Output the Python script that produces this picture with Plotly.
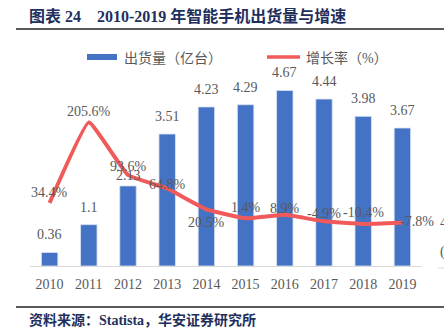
import plotly.graph_objects as go

years = ["2010", "2011", "2012", "2013", "2014", "2015", "2016", "2017", "2018", "2019"]
shipments = [0.36, 1.1, 2.13, 3.51, 4.23, 4.29, 4.67, 4.44, 3.98, 3.67]
growth = [34.4, 205.6, 93.6, 64.8, 20.5, 1.4, 8.9, -4.9, -10.4, -7.8]
ship_labels = ["0.36", "1.1", "2.13", "3.51", "4.23", "4.29", "4.67", "4.44", "3.98", "3.67"]
growth_labels = ["34.4%", "205.6%", "93.6%", "64.8%", "20.5%", "1.4%", "8.9%", "-4.9%", "-10.4%", "-7.8%"]

BLUE = "#4472C4"
RED = "#F05A5A"
GRAY = "#595959"
NAVY = "#1F2F5C"
FONT = "Liberation Serif, Noto Sans CJK SC, serif"
LS = 14

fig = go.Figure()
fig.add_trace(go.Bar(
    x=years, y=shipments, marker=dict(color=BLUE, line=dict(color="#DCE4F3", width=0.8)),
    width=0.42, showlegend=False, hoverinfo="skip"))
fig.add_trace(go.Scatter(
    x=years, y=growth, yaxis="y2", mode="lines",
    line=dict(color=RED, width=4, shape="spline", smoothing=0.3),
    showlegend=False, hoverinfo="skip"))

annotations = []
bar_shift = [8, 8, 1, 8, 8, 8, 8, 8, 8, 8]
for i, (v, t, s) in enumerate(zip(shipments, ship_labels, bar_shift)):
    annotations.append(dict(x=i, y=v, xref="x", yref="y", text=t, showarrow=False,
                            yanchor="bottom", yshift=s,
                            font=dict(family=FONT, size=LS, color=GRAY)))
g_shift = [(0, 10), (0, 11), (0, 9), (0, 4), (0, -13), (0, 11), (0, 6), (0, 8), (0, 11), (15, 1)]
for i, (v, t, (dx, dy)) in enumerate(zip(growth, growth_labels, g_shift)):
    annotations.append(dict(x=i, y=v, xref="x", yref="y2", text=t, showarrow=False,
                            xshift=dx, yshift=dy,
                            font=dict(family=FONT, size=LS, color=GRAY)))

annotations.append(dict(x=27, y=16, xref="paper", yref="paper",
                        text="<b>图表 24&nbsp;&nbsp;&nbsp;&nbsp;2010-2019 年智能手机出货量与增速</b>",
                        showarrow=False, xanchor="left", yanchor="middle",
                        font=dict(family=FONT, size=16, color=NAVY)))
annotations.append(dict(x=27, y=320, xref="paper", yref="paper", text="<b>资料来源：Statista，华安证券研究所</b>",
                        showarrow=False, xanchor="left", yanchor="middle",
                        font=dict(family=FONT, size=14, color=NAVY)))
annotations.append(dict(x=122, y=58, text="出货量（亿台）", showarrow=False, xanchor="left", yanchor="middle",
                        font=dict(family=FONT, size=14, color=GRAY)))
annotations.append(dict(x=304, y=58, text="增长率（%）", showarrow=False, xanchor="left", yanchor="middle",
                        font=dict(family=FONT, size=14, color=GRAY)))
annotations.append(dict(x=438, y=222, text="4", showarrow=False, xanchor="left", yanchor="middle",
                        font=dict(family=FONT, size=LS, color=GRAY)))
annotations.append(dict(x=438, y=252, text="(", showarrow=False, xanchor="left", yanchor="middle",
                        font=dict(family=FONT, size=LS, color=GRAY)))

W, H = 444, 332
L, R, T, B = 30, 22, 78, 66
pw, ph = W - L - R, H - T - B
def px(x):
    return (x - L) / pw
def py(y):
    return (H - B - y) / ph
for a in annotations:
    if a.get("xref") != "x":
        a["xref"] = "paper"; a["yref"] = "paper"
        a["x"] = px(a["x"]); a["y"] = py(a["y"])

shapes = [
    dict(type="line", xref="paper", yref="paper", x0=px(16), x1=px(444), y0=py(29), y1=py(29),
         line=dict(color="#222222", width=1.3)),
    dict(type="line", xref="paper", yref="paper", x0=px(16), x1=px(444), y0=py(307), y1=py(307),
         line=dict(color="#222222", width=1.3)),
    dict(type="rect", xref="paper", yref="paper", x0=px(87), x1=px(117), y0=py(60), y1=py(54),
         fillcolor=BLUE, line=dict(width=0)),
    dict(type="line", xref="paper", yref="paper", x0=px(267), x1=px(300), y0=py(57), y1=py(57),
         line=dict(color=RED, width=3.5)),
    dict(type="line", xref="paper", yref="paper", x0=px(438), x1=px(444), y0=py(268), y1=py(268),
         line=dict(color="#D9D9D9", width=1)),
]

fig.update_layout(
    width=W, height=H, margin=dict(l=L, r=R, t=T, b=B),
    paper_bgcolor="white", plot_bgcolor="white",
    xaxis=dict(type="category", range=[-0.5, 9.5], showgrid=False, showline=True,
               linecolor="#D9D9D9", linewidth=1,
               ticks="outside", ticklen=5, tickcolor="rgba(0,0,0,0)",
               tickfont=dict(family=FONT, size=LS, color=GRAY), zeroline=False),
    yaxis=dict(range=[0, 5], visible=False),
    yaxis2=dict(range=[-100, 300], overlaying="y", side="right", visible=False),
    annotations=annotations, shapes=shapes, showlegend=False,
)
fig.write_html("out.html")
